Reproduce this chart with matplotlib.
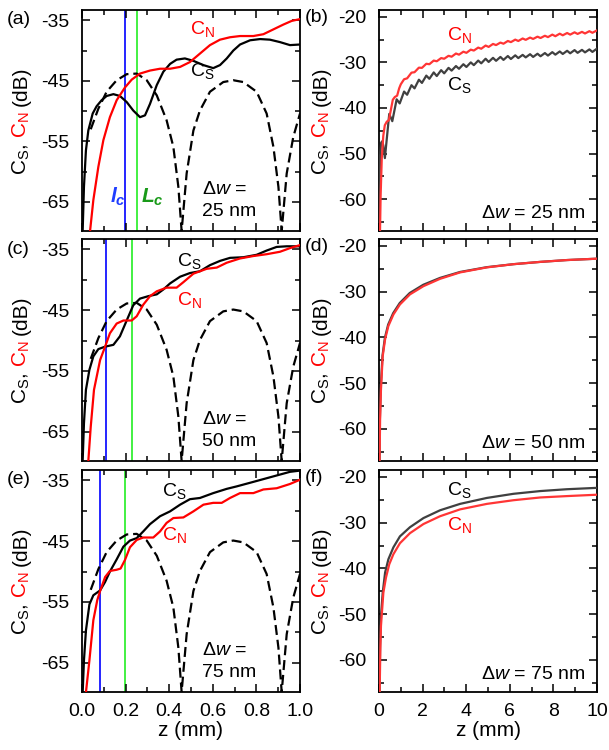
import matplotlib
matplotlib.use("Agg")
import matplotlib.pyplot as plt
from matplotlib.ticker import FixedLocator, MultipleLocator

plt.rcParams["font.family"] = ["Liberation Sans", "DejaVu Sans"]
plt.rcParams["mathtext.fontset"] = "custom"
plt.rcParams["mathtext.rm"] = "Liberation Sans"
plt.rcParams["mathtext.it"] = "Liberation Sans:italic"
plt.rcParams["mathtext.bf"] = "Liberation Sans:bold"
plt.rcParams["mathtext.default"] = "regular"
plt.rcParams["axes.unicode_minus"] = False
plt.rcParams["font.size"] = 14
plt.rcParams["axes.linewidth"] = 1.3

# ---- short-range data (z in mm, levels in dB) ----
# reference curve, identical in all three short-range panels
z_ref = [0.04, 0.075, 0.113, 0.159, 0.205, 0.251, 0.297, 0.343,
         0.388, 0.419, 0.442, 0.457, 0.48, 0.511, 0.541, 0.587, 0.648, 0.694,
         0.74, 0.801, 0.847, 0.878, 0.901, 0.916, 0.939, 0.969, 1.0]
c_ref = [-53.0, -49.6, -46.8, -44.9, -43.9, -43.8, -44.9, -47.4,
         -51.5, -55.9, -62.5, -69.8, -60.3, -53.2, -49.9, -46.8, -45.2, -44.9,
         -45.2, -46.8, -50.4, -55.9, -62.5, -69.8, -60.3, -54.3, -50.4]

# dw = 25 nm
z_s25 = [0.003, 0.009, 0.018, 0.029, 0.049, 0.067, 0.09, 0.113, 0.144, 0.174,
         0.205, 0.235, 0.266, 0.289, 0.312, 0.343, 0.373, 0.404, 0.434, 0.472,
         0.511, 0.557, 0.602, 0.633, 0.664, 0.694, 0.725, 0.771, 0.817, 0.862,
         0.908, 0.954, 1.0]
cs_25 = [-69.8, -62.5, -56.5, -53.2, -50.4, -49.2, -48.2, -47.5, -47.2, -47.5,
         -48.5, -49.9, -51.0, -50.7, -48.8, -45.7, -43.5, -42.2, -41.5, -41.3,
         -41.7, -42.4, -42.9, -42.4, -41.3, -40.0, -39.0, -38.3, -38.1, -38.2,
         -38.6, -39.1, -39.0]
z_n25 = [0.037, 0.052, 0.075, 0.098, 0.128, 0.159, 0.197, 0.228, 0.266, 0.312,
         0.358, 0.404, 0.45, 0.495, 0.541, 0.587, 0.633, 0.679, 0.725, 0.786,
         0.832, 0.878, 0.924, 0.962, 1.0]
cn_25 = [-69.8, -64.7, -59.2, -54.8, -51.0, -48.2, -46.1, -44.8, -43.8, -43.3,
         -43.0, -43.0, -42.7, -41.9, -40.5, -39.1, -38.2, -37.8, -37.6, -37.6,
         -37.3, -36.5, -35.7, -35.1, -34.8]

# dw = 50 nm
z_s50 = [0.003, 0.009, 0.018, 0.034, 0.052, 0.075, 0.106, 0.144, 0.174, 0.205,
         0.235, 0.266, 0.304, 0.343, 0.373, 0.404, 0.45, 0.495, 0.541, 0.587,
         0.633, 0.679, 0.74, 0.801, 0.847, 0.893, 0.939, 1.0]
cs_50 = [-69.8, -63.6, -58.1, -54.8, -52.6, -51.4, -51.0, -50.7, -49.3, -46.7,
         -44.2, -43.1, -42.7, -42.4, -41.6, -40.6, -39.5, -38.9, -38.6, -37.6,
         -36.9, -36.4, -36.3, -35.9, -35.2, -34.6, -34.5, -34.5]
z_n50 = [0.029, 0.04, 0.055, 0.083, 0.106, 0.128, 0.159, 0.19, 0.228, 0.251,
         0.281, 0.312, 0.343, 0.388, 0.434, 0.465, 0.511, 0.572, 0.618, 0.664,
         0.725, 0.786, 0.847, 0.908, 0.954, 1.0]
cn_50 = [-69.8, -64.2, -58.1, -53.2, -51.0, -48.8, -47.2, -46.7, -46.7, -46.0,
         -44.1, -42.7, -41.9, -41.3, -41.3, -40.4, -39.0, -38.2, -38.0, -37.2,
         -36.5, -36.1, -35.8, -35.4, -34.8, -34.3]

# dw = 75 nm
z_s75 = [0.003, 0.009, 0.018, 0.034, 0.052, 0.083, 0.106, 0.128, 0.159, 0.19,
         0.22, 0.251, 0.281, 0.312, 0.358, 0.404, 0.45, 0.495, 0.541, 0.602,
         0.664, 0.709, 0.771, 0.832, 0.893, 0.954, 1.0]
cs_75 = [-69.9, -64.6, -59.7, -55.4, -53.9, -53.1, -51.7, -50.0, -48.0, -45.9,
         -44.9, -44.5, -43.4, -42.2, -40.9, -40.1, -39.0, -38.1, -37.9, -37.1,
         -36.4, -36.0, -35.4, -34.8, -34.2, -33.6, -33.4]
z_n75 = [0.018, 0.034, 0.052, 0.07, 0.083, 0.106, 0.128, 0.159, 0.177, 0.197,
         0.22, 0.251, 0.281, 0.327, 0.358, 0.388, 0.419, 0.465, 0.511, 0.557,
         0.602, 0.641, 0.679, 0.725, 0.786, 0.832, 0.893, 0.954, 1.0]
cn_75 = [-69.9, -64.6, -58.0, -54.7, -53.2, -50.9, -49.9, -49.7, -49.5, -48.1,
         -46.0, -44.8, -44.4, -44.4, -43.4, -42.0, -41.2, -41.1, -40.1, -39.0,
         -38.7, -38.7, -37.9, -37.1, -37.1, -36.5, -36.3, -35.6, -34.9]

# coherence lengths marked on the short-range panels (mm)
lc_small = [0.197, 0.108, 0.083]
lc_large = [0.251, 0.231, 0.199]

# ---- long-range data ----
z_sb = [0.0, 0.02, 0.05, 0.1, 0.15, 0.2, 0.27, 0.47, 0.61, 0.81, 0.95,
        1.15, 1.29, 1.49, 1.63, 1.83, 1.97, 2.17, 2.31, 2.51, 2.65, 2.85, 2.99,
        3.19, 3.33, 3.53, 3.67, 3.87, 4.01, 4.21, 4.35, 4.55, 4.69, 4.89, 5.03,
        5.23, 5.37, 5.57, 5.71, 5.91, 6.05, 6.25, 6.39, 6.59, 6.73, 6.93, 7.07,
        7.27, 7.41, 7.61, 7.75, 7.95, 8.09, 8.29, 8.43, 8.63, 8.77, 8.97, 9.11,
        9.31, 9.45, 9.65, 9.79, 9.99]
cs_b = [-70.0, -57.0, -50.4, -47.6, -47.3, -48.3, -51.0, -41.3, -42.9, -38.1, -39.0,
        -36.4, -37.1, -35.0, -35.7, -33.8, -34.5, -32.9, -33.6, -32.2, -33.0, -31.7, -32.4,
        -31.2, -31.8, -30.8, -31.4, -30.4, -31.0, -30.0, -30.6, -29.6, -30.2, -29.2, -29.9,
        -29.0, -29.65, -28.8, -29.45, -28.6, -29.25, -28.45, -29.05, -28.35, -28.9, -28.2, -28.8,
        -28.1, -28.65, -27.95, -28.5, -27.75, -28.3, -27.6, -28.15, -27.45, -28.0, -27.3, -27.9,
        -27.25, -27.8, -27.15, -27.7, -27.0]
z_nb = [0.037, 0.075, 0.128, 0.197, 0.266, 0.358, 0.45, 0.541, 0.633, 0.725, 0.832,
        0.924, 1.0, 1.15, 1.29, 1.49, 1.63, 1.83, 1.97, 2.17, 2.31, 2.51, 2.65, 2.85,
        2.99, 3.19, 3.33, 3.53, 3.67, 3.87, 4.01, 4.21, 4.35, 4.55, 4.69, 4.89, 5.03,
        5.23, 5.37, 5.57, 5.71, 5.91, 6.05, 6.25, 6.39, 6.59, 6.73, 6.93, 7.07, 7.27,
        7.41, 7.61, 7.75, 7.95, 8.09, 8.29, 8.43, 8.63, 8.77, 8.97, 9.11, 9.31, 9.45,
        9.65, 9.79, 9.99]
cn_b = [-69.8, -59.2, -51.0, -46.1, -43.8, -43.0, -42.7, -40.5, -38.2, -37.6, -37.3,
        -35.7, -34.8, -33.7, -33.5, -32.25, -32.15, -31.15, -31.2, -30.3, -30.4, -29.6,
        -29.75, -29.05, -29.2, -28.55, -28.75, -28.05, -28.3, -27.65, -27.9, -27.2, -27.4,
        -26.75, -27.0, -26.3, -26.6, -25.95, -26.2, -25.65, -25.9, -25.3, -25.55, -25.0,
        -25.3, -24.75, -25.05, -24.55, -24.85, -24.35, -24.65, -24.15, -24.45, -23.9,
        -24.25, -23.7, -24.05, -23.55, -23.9, -23.4, -23.75, -23.3, -23.65, -23.15,
        -23.5, -23.0]

z_sd = [0.02, 0.04, 0.08, 0.16, 0.27, 0.42, 0.65, 0.95, 1.41, 2.03, 2.8, 3.72,
        4.95, 6.17, 7.4, 8.62, 10.0]
cs_d = [-70.0, -58.0, -51.0, -44.0, -40.1, -37.2, -34.7, -32.5, -30.3, -28.5,
        -27.0, -25.7, -24.65, -24.0, -23.5, -23.1, -22.8]
z_nd = [0.02, 0.05, 0.09, 0.17, 0.28, 0.43, 0.66, 0.96, 1.42, 2.04, 2.8, 3.72,
        4.95, 6.17, 7.4, 8.62, 10.0]
cn_d = [-70.0, -58.0, -51.4, -44.1, -40.4, -37.5, -35.0, -32.8, -30.6, -28.8,
        -27.2, -25.8, -24.7, -24.0, -23.5, -23.1, -22.8]

z_sf = [0.02, 0.05, 0.09, 0.17, 0.28, 0.43, 0.66, 0.96, 1.42, 2.04, 2.8, 3.72,
        4.95, 6.17, 7.4, 8.62, 10.0]
cs_f = [-70.0, -57.0, -50.4, -45.3, -40.9, -38.0, -35.4, -33.0, -31.0, -29.0,
        -27.3, -25.9, -24.6, -23.7, -23.1, -22.7, -22.4]
z_nf = [0.02, 0.06, 0.09, 0.2, 0.32, 0.47, 0.66, 0.96, 1.42, 2.04, 2.8, 3.72,
        4.95, 6.17, 7.4, 8.62, 10.0]
cn_f = [-70.0, -58.0, -52.6, -45.3, -42.0, -39.1, -36.9, -34.5, -32.3, -30.3,
        -28.6, -27.1, -25.9, -25.1, -24.5, -24.2, -23.9]

widths = ["25", "50", "75"]
letters_left = ["(a)", "(c)", "(e)"]
letters_right = ["(b)", "(d)", "(f)"]

RED = "#ff0000"
RED2 = "#ff3535"
GRAY = "#404040"
DASH = (0, (4.5, 2.2))

W_PX, H_PX = 609, 750
fig = plt.figure(figsize=(W_PX / 100, H_PX / 100), dpi=100)

rows_px = [(10, 231), (239, 461), (470, 692)]
left_px = (82, 300)
right_px = (379, 597)


def add_axes(xpx, ypx):
    return fig.add_axes([xpx[0] / W_PX, 1 - ypx[1] / H_PX,
                         (xpx[1] - xpx[0]) / W_PX, (ypx[1] - ypx[0]) / H_PX])


def style(ax, bottom_labels):
    ax.tick_params(which="both", direction="in", top=True, right=True,
                   labelsize=14, width=1.1)
    ax.tick_params(which="major", length=6, pad=9)
    ax.tick_params(which="minor", length=3.5)
    ax.tick_params(axis="x", labelbottom=bottom_labels, pad=8)


def stacked_ylabel(ax, x_px, pieces, gap=5.5):
    # rotated label made of differently coloured pieces, centred on the axes
    r = fig.canvas.get_renderer()
    pos = ax.get_position()
    ymid = (pos.y0 + pos.y1) / 2 * H_PX
    texts, lens = [], []
    for s, c in pieces:
        t = fig.text(x_px / W_PX, 0, s, color=c, rotation=90, rotation_mode="anchor",
                     ha="left", va="baseline", fontsize=15)
        texts.append(t)
        lens.append(t.get_window_extent(r).height)
    y = ymid - (sum(lens) + gap * (len(lens) - 1)) / 2
    for t, l in zip(texts, lens):
        t.set_y(y / H_PX)
        y += l + gap


label_pieces = [("C$_S$,", "black"), ("C$_N$", RED), ("(dB)", "black")]

short_sets = [(z_s25, cs_25, z_n25, cn_25), (z_s50, cs_50, z_n50, cn_50),
              (z_s75, cs_75, z_n75, cn_75)]
long_sets = [(z_sb, cs_b, z_nb, cn_b), (z_sd, cs_d, z_nd, cn_d),
             (z_sf, cs_f, z_nf, cn_f)]
# label anchors (z, dB) for C_S / C_N
short_lbl = [((0.495, -44.2), (0.495, -37.2)), ((0.434, -37.75), (0.434, -44.1)),
             ((0.366, -37.5), (0.366, -44.8))]
long_lbl = [((3.11, -36.1), (3.11, -25.0)), None,
            ((3.11, -23.9), (3.11, -31.7))]

for i in range(3):
    last = i == 2
    # short-range panel
    ax = add_axes(left_px, rows_px[i])
    zs, cs, zn, cn = short_sets[i]
    ax.axvline(lc_small[i], color="#0000ff", lw=1.2, zorder=1)
    ax.axvline(lc_large[i], color="#22ee22", lw=1.2, zorder=1)
    ax.plot(z_ref, c_ref, color="black", lw=1.6, linestyle=DASH, zorder=2)
    ax.plot(zs, cs, color="black", lw=1.6, zorder=3)
    ax.plot(zn, cn, color=RED, lw=1.6, zorder=4)
    ax.set_xlim(0, 1.0)
    ax.set_ylim(-69.8, -33.3)
    ax.xaxis.set_minor_locator(MultipleLocator(0.1))
    ax.yaxis.set_major_locator(FixedLocator([-65, -55, -45, -35]))
    ax.yaxis.set_minor_locator(FixedLocator([-70, -60, -50, -40]))
    ax.set_xticks([0, 0.2, 0.4, 0.6, 0.8, 1.0])
    ax.set_xticklabels(["0.0", "0.2", "0.4", "0.6", "0.8", "1.0"])
    style(ax, last)
    (sx, sy), (nx, ny) = short_lbl[i]
    ax.text(sx, sy, "C$_S$", color="black", fontsize=14, va="baseline", ha="left")
    ax.text(nx, ny, "C$_N$", color=RED, fontsize=14, va="baseline", ha="left")
    ax.text(0.549, -63.7, "Δ$\\mathit{w}$ =", fontsize=14, va="baseline", ha="left")
    ax.text(0.549, -67.4, f"{widths[i]} nm", fontsize=14, va="baseline", ha="left")
    if i == 0:
        ax.text(0.128, -65.1, "l$_c$", color="#1f3dff", fontsize=15,
                fontweight="bold", style="italic", va="baseline", ha="left")
        ax.text(0.272, -65.1, "L$_c$", color="#199a19", fontsize=15,
                fontweight="bold", style="italic", va="baseline", ha="left")
    if last:
        ax.set_xlabel("z (mm)", fontsize=15, labelpad=1)
    stacked_ylabel(ax, 26.5, label_pieces)
    fig.text(7 / W_PX, 1 - (rows_px[i][0] + 10) / H_PX, letters_left[i],
             fontsize=14, va="center", ha="left")

    # long-range panel
    ax = add_axes(right_px, rows_px[i])
    zs, cs, zn, cn = long_sets[i]
    ax.plot(zs, cs, color=GRAY, lw=1.6, zorder=3)
    ax.plot(zn, cn, color=RED2, lw=1.6, zorder=4)
    ax.set_xlim(0, 10)
    ax.set_ylim(-67, -18.5)
    ax.xaxis.set_major_locator(MultipleLocator(2))
    ax.xaxis.set_minor_locator(MultipleLocator(1))
    ax.yaxis.set_major_locator(MultipleLocator(10))
    ax.yaxis.set_minor_locator(MultipleLocator(5))
    style(ax, last)
    if long_lbl[i] is not None:
        (sx, sy), (nx, ny) = long_lbl[i]
        ax.text(sx, sy, "C$_S$", color="black", fontsize=14, va="baseline", ha="left")
        ax.text(nx, ny, "C$_N$", color=RED, fontsize=14, va="baseline", ha="left")
    ax.text(9.45, -64.2, f"Δ$\\mathit{{w}}$ = {widths[i]} nm", fontsize=14,
            va="baseline", ha="right")
    if last:
        ax.set_xlabel("z (mm)", fontsize=15, labelpad=1)
    stacked_ylabel(ax, 326.5, label_pieces)
    fig.text(305 / W_PX, 1 - (rows_px[i][0] + 7) / H_PX, letters_right[i],
             fontsize=14, va="center", ha="left")

fig.savefig("out.png", dpi=100)
